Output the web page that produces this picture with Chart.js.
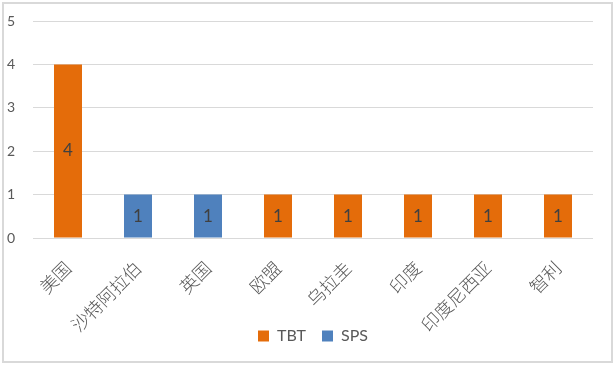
<!DOCTYPE html>
<html>
<head>
<meta charset="utf-8">
<script src="https://cdn.jsdelivr.net/npm/chart.js@4/dist/chart.umd.min.js"></script>
<style>
    html, body { margin: 0; padding: 0; background: #fff; }
    #wrap { position: relative; width: 615px; height: 365px; }
    #frame {
        position: absolute; left: 2px; top: 2px; width: 607px; height: 357px;
        border: 2px solid #D9D9D9; pointer-events: none;
    }
    canvas { display: block; }
</style>
</head>
<body>
<div id="wrap">
    <canvas id="chart" width="615" height="365"></canvas>
    <div id="frame"></div>
</div>
<script>
const categories = ['美国', '沙特阿拉伯', '英国', '欧盟', '乌拉圭', '印度', '印度尼西亚', '智利'];
const tbtValues = [4, null, null, 1, 1, 1, 1, 1];
const spsValues = [null, 1, 1, null, null, null, null, null];
const yTicks = [0, 1, 2, 3, 4, 5];

const latin = 'Lato, "Noto Sans CJK SC", sans-serif';
const textGray = '#595959';

// draws the value in the middle of each bar
const barLabels = {
    id: 'barLabels',
    afterDatasetsDraw(chart) {
        const { ctx } = chart;
        ctx.save();
        ctx.font = `17px ${latin}`;
        ctx.fillStyle = '#404040';
        ctx.textAlign = 'center';
        ctx.textBaseline = 'middle';
        chart.data.datasets.forEach((ds, i) => {
            const meta = chart.getDatasetMeta(i);
            meta.data.forEach((bar, j) => {
                const v = ds.data[j];
                if (v === null || v === undefined) {
                    return;
                }
                ctx.fillText(String(v), bar.x, (bar.y + bar.base) / 2);
            });
        });
        ctx.restore();
    },
};

// long rotated labels run into the legend row, so let the x labels draw past the axis box
const unclipX = {
    id: 'unclipX',
    afterLayout(chart) {
        chart.scales.x.bottom = chart.height;
    },
};

new Chart(document.getElementById('chart'), {
    type: 'bar',
    data: {
        labels: categories,
        datasets: [{
            label: 'TBT',
            data: tbtValues,
            backgroundColor: '#E46C0A',
            categoryPercentage: 0.8,
            barPercentage: 0.5,
        }, {
            label: 'SPS',
            data: spsValues,
            backgroundColor: '#4F81BD',
            categoryPercentage: 0.8,
            barPercentage: 0.5,
        }],
    },
    options: {
        responsive: false,
        animation: false,
        layout: { padding: { left: 7, right: 22, top: 21, bottom: 11 } },
        plugins: {
            legend: {
                position: 'bottom',
                fullSize: false,
                labels: {
                    boxWidth: 11,
                    boxHeight: 11,
                    padding: 16,
                    color: textGray,
                    font: { family: latin, size: 16 },
                },
            },
            tooltip: { enabled: false },
        },
        scales: {
            x: {
                stacked: true,
                grid: { display: false },
                border: { display: false },
                ticks: {
                    color: textGray,
                    font: { family: '"Noto Sans CJK SC", sans-serif', size: 18, weight: '300' },
                    minRotation: 45,
                    maxRotation: 45,
                    padding: 11,
                },
                afterFit: (scale) => { scale.height = 74; },
            },
            y: {
                stacked: true,
                min: 0,
                max: 5,
                grid: { color: '#D9D9D9', drawTicks: false },
                border: { display: false },
                afterBuildTicks: (scale) => { scale.ticks = yTicks.map((v) => ({ value: v })); },
                ticks: {
                    color: textGray,
                    font: { family: latin, size: 14 },
                    crossAlign: 'far',
                    padding: 0,
                },
                afterFit: (scale) => { scale.width = 26; },
            },
        },
    },
    plugins: [barLabels, unclipX],
});
</script>
</body>
</html>
